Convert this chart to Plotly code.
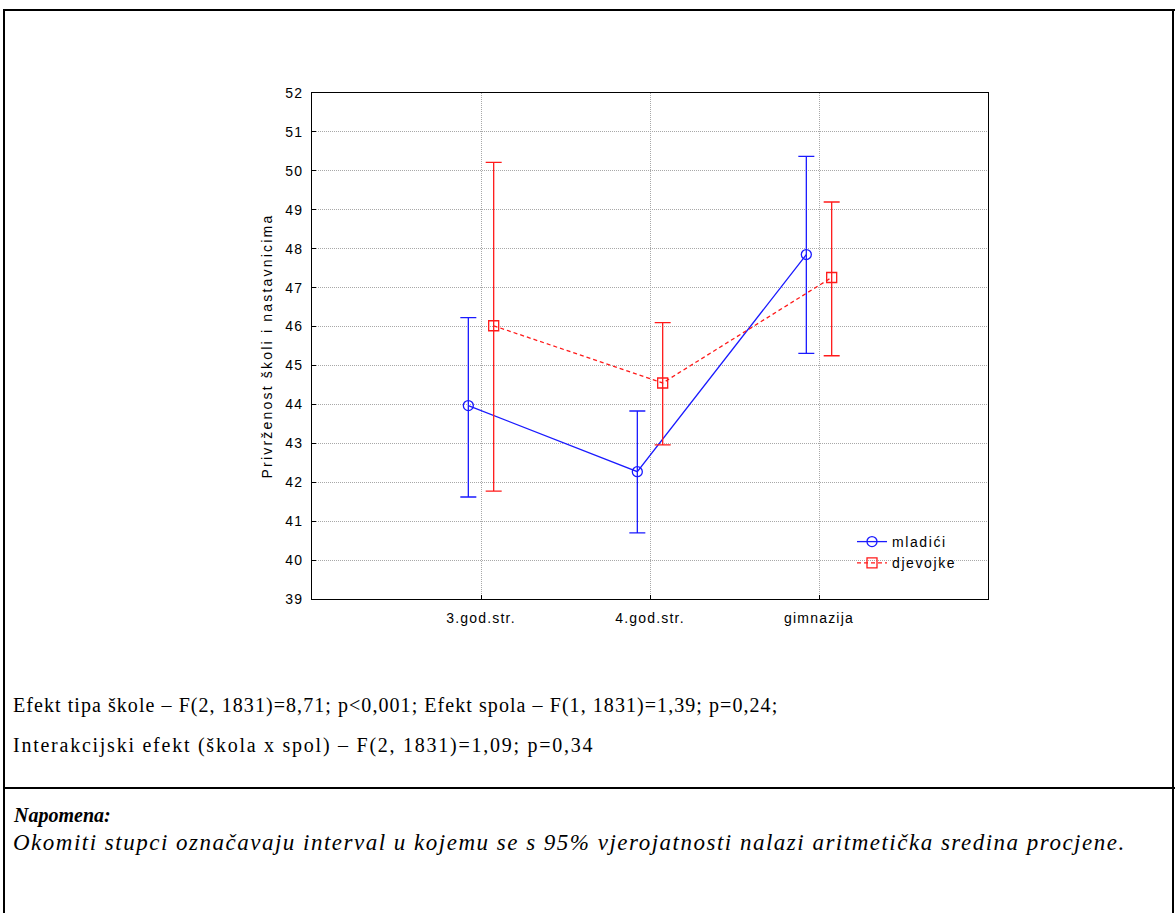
import plotly.graph_objects as go

categories = ["3.god.str.", "4.god.str.", "gimnazija"]
cat_pos = [1, 2, 3]

mladici_mean = [43.97, 42.27, 47.85]
mladici_upper = [46.23, 43.83, 50.37]
mladici_lower = [41.62, 40.70, 45.31]

djevojke_mean = [46.02, 44.55, 47.26]
djevojke_upper = [50.22, 46.10, 49.20]
djevojke_lower = [41.77, 42.96, 45.25]

y_ticks = list(range(39, 53))

W, H = 1175, 913
PL, PR, PT, PB = 312, 988, 93, 599  # plot area in pixels


def px(x):
    return (x - PL) / (PR - PL)


def py(y):
    return (PB - y) / (PB - PT)


def sp(text, ls):
    return f'<span style="letter-spacing:{ls}px">{text}</span>'


blue = "#1a1aff"
red = "#ff1a1a"
off = 0.075

fig = go.Figure()
fig.add_trace(go.Scatter(
    x=[c - off for c in cat_pos], y=mladici_mean, name=sp("mladići", 1.6),
    mode="lines+markers",
    line=dict(color=blue, width=1.3),
    marker=dict(symbol="circle-open", size=10, color=blue, line=dict(width=1.3)),
    error_y=dict(type="data", symmetric=False,
                 array=[u - m for u, m in zip(mladici_upper, mladici_mean)],
                 arrayminus=[m - l for m, l in zip(mladici_mean, mladici_lower)],
                 color=blue, thickness=1.3, width=8),
))
fig.add_trace(go.Scatter(
    x=[c + off for c in cat_pos], y=djevojke_mean, name=sp("djevojke", 1.6),
    mode="lines+markers",
    line=dict(color=red, width=1.3, dash="4px,3px"),
    marker=dict(symbol="square-open", size=10, color=red, line=dict(width=1.3)),
    error_y=dict(type="data", symmetric=False,
                 array=[u - m for u, m in zip(djevojke_upper, djevojke_mean)],
                 arrayminus=[m - l for m, l in zip(djevojke_mean, djevojke_lower)],
                 color=red, thickness=1.3, width=8),
))

axis_font = dict(family="Liberation Sans, Arial", size=14, color="black")

fig.update_xaxes(
    range=[0, 4], tickvals=cat_pos, ticktext=[sp(c, 1.2) for c in categories],
    showgrid=True, gridcolor="#a8a8a8", griddash="1px,1px", gridwidth=1,
    showline=True, linecolor="black", linewidth=1, mirror=True,
    ticks="inside", ticklen=4, tickcolor="black",
    tickfont=axis_font, zeroline=False, ticklabelstandoff=6,
)
fig.update_yaxes(
    range=[39, 52], tickvals=y_ticks, ticktext=[sp(str(t), 1.2) for t in y_ticks],
    showgrid=True, gridcolor="#a8a8a8", griddash="1px,1px", gridwidth=1,
    showline=True, linecolor="black", linewidth=1, mirror=True,
    ticks="inside", ticklen=4, tickcolor="black",
    tickfont=axis_font, zeroline=False, ticklabelstandoff=5,
    title=dict(text=sp("Privrženost školi i nastavnicima", 2.2), font=axis_font, standoff=9),
)

shapes = []
line_style = dict(color="black", width=2)
shapes.append(dict(type="line", xref="paper", yref="paper",
                   x0=px(3), x1=px(1175), y0=py(10), y1=py(10), line=line_style))
shapes.append(dict(type="line", xref="paper", yref="paper",
                   x0=px(4), x1=px(4), y0=py(10), y1=py(913), line=line_style))
shapes.append(dict(type="line", xref="paper", yref="paper",
                   x0=px(1173), x1=px(1173), y0=py(10), y1=py(913), line=line_style))
shapes.append(dict(type="line", xref="paper", yref="paper",
                   x0=px(3), x1=px(1175), y0=py(788), y1=py(788), line=line_style))

serif = "Liberation Serif, Times New Roman"
annotations = [
    dict(text=sp("Efekt tipa škole – F(2, 1831)=8,71; p&lt;0,001; Efekt spola – F(1, 1831)=1,39; p=0,24;", 1.06),
         x=px(11), y=py(705), xanchor="left", yanchor="middle"),
    dict(text=sp("Interakcijski efekt (škola x spol) – F(2, 1831)=1,09; p=0,34", 1.75),
         x=px(11), y=py(745), xanchor="left", yanchor="middle"),
    dict(text="<b><i>Napomena:</i></b>",
         x=px(11), y=py(815), xanchor="left", yanchor="middle"),
    dict(text="<i>" + sp("Okomiti stupci označavaju interval u kojemu se s 95% vjerojatnosti nalazi aritmetička sredina procjene.", 1.5) + "</i>",
         x=px(11), y=py(842), xanchor="left", yanchor="middle", fsize=23),
]
for a in annotations:
    fs = a.pop("fsize", 20)
    a.update(xref="paper", yref="paper", showarrow=False,
             font=dict(family=serif, size=fs, color="black"))

fig.update_layout(
    width=W, height=H,
    margin=dict(l=PL, r=W - PR, t=PT, b=H - PB, pad=0),
    paper_bgcolor="white", plot_bgcolor="white",
    shapes=shapes, annotations=annotations,
    showlegend=True,
    legend=dict(x=px(852), y=py(526), xanchor="left", yanchor="top",
                bgcolor="rgba(0,0,0,0)", font=axis_font,
                tracegroupgap=0, itemwidth=30),
)

fig.write_html("out.html", config={"displayModeBar": False},
               post_script="document.body.style.margin='0px';document.body.style.overflow='hidden';")
